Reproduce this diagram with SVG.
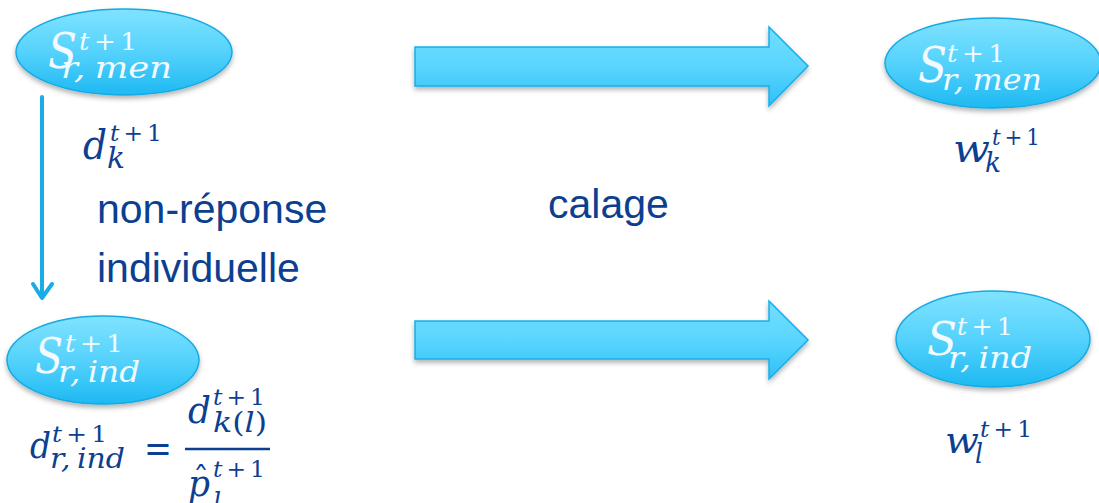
<svg xmlns="http://www.w3.org/2000/svg" width="1099" height="503" viewBox="0 0 1099 503">
<defs>
<linearGradient id="ellGrad" x1="0" y1="0" x2="0" y2="1">
<stop offset="0" stop-color="#80E3FF"/>
<stop offset="0.5" stop-color="#55D2FC"/>
<stop offset="1" stop-color="#1DB9F2"/>
</linearGradient>
<linearGradient id="arrGrad" x1="0" y1="0" x2="0" y2="1">
<stop offset="0" stop-color="#72DEFF"/>
<stop offset="0.5" stop-color="#5AD5FE"/>
<stop offset="1" stop-color="#2EC0F8"/>
</linearGradient>
<filter id="shadow" x="-10%" y="-20%" width="120%" height="150%">
<feDropShadow dx="0" dy="3" stdDeviation="2.5" flood-color="#000" flood-opacity="0.3"/>
</filter>
</defs>
<style>
.ell{fill:url(#ellGrad);stroke:#17A9E2;stroke-width:1.5;filter:url(#shadow)}
.arr{fill:url(#arrGrad);stroke:#17AEE8;stroke-width:1.5;filter:url(#shadow)}
.m{font-family:"DejaVu Serif","Liberation Serif",serif;font-style:italic}
.u{font-family:"DejaVu Serif","Liberation Serif",serif;font-style:normal}
.w{fill:#F2FAFF}
.b{fill:#0D3F91}
.lbl{font-family:"Liberation Sans",Arial,sans-serif;font-size:41px;fill:#0D3F91}
</style>

<g id="connectors">
<polygon class="arr" points="415,47 769,47 769,27 808,66 769,106 769,86 415,86"/>
<polygon class="arr" points="415,321 769,321 769,301 808,340 769,379 769,359 415,359"/>
<g stroke="#19ACE6" stroke-width="4" fill="none" stroke-linecap="round" stroke-linejoin="round">
<line x1="42" y1="97" x2="42" y2="297"/>
<polyline points="33,284 42,298 52,284"/>
</g>
</g>

<g id="node-men-left">
<ellipse class="ell" cx="124" cy="52" rx="108" ry="43"/>
<text class="m w" x="48" y="68" font-size="48" textLength="29" lengthAdjust="spacingAndGlyphs">S</text>
<text class="m w" x="79" y="50" font-size="24" textLength="58" lengthAdjust="spacingAndGlyphs">t<tspan class="u" dx="4">+</tspan><tspan class="u" dx="4">1</tspan></text>
<text class="m w" x="61" y="78" font-size="30" textLength="111" lengthAdjust="spacingAndGlyphs">r,<tspan dx="8">men</tspan></text>
</g>

<g id="node-ind-left">
<ellipse class="ell" cx="103" cy="360" rx="96" ry="44"/>
<text class="m w" x="35" y="373" font-size="48" textLength="28" lengthAdjust="spacingAndGlyphs">S</text>
<text class="m w" x="65" y="352" font-size="24" textLength="58" lengthAdjust="spacingAndGlyphs">t<tspan class="u" dx="4">+</tspan><tspan class="u" dx="4">1</tspan></text>
<text class="m w" x="58" y="382" font-size="30" textLength="82" lengthAdjust="spacingAndGlyphs">r,<tspan dx="7">ind</tspan></text>
</g>

<g id="node-men-right">
<ellipse class="ell" cx="993" cy="63" rx="108" ry="45"/>
<text class="m w" x="918" y="82" font-size="48" textLength="29" lengthAdjust="spacingAndGlyphs">S</text>
<text class="m w" x="947" y="62" font-size="24" textLength="58" lengthAdjust="spacingAndGlyphs">t<tspan class="u" dx="4">+</tspan><tspan class="u" dx="4">1</tspan></text>
<text class="m w" x="942" y="90" font-size="29" textLength="100" lengthAdjust="spacingAndGlyphs">r,<tspan dx="8">men</tspan></text>
</g>

<g id="node-ind-right">
<ellipse class="ell" cx="993" cy="339" rx="97" ry="48"/>
<text class="m w" x="927" y="355" font-size="46" textLength="30" lengthAdjust="spacingAndGlyphs">S</text>
<text class="m w" x="957" y="335" font-size="24" textLength="56" lengthAdjust="spacingAndGlyphs">t<tspan class="u" dx="4">+</tspan><tspan class="u" dx="4">1</tspan></text>
<text class="m w" x="948" y="368" font-size="30" textLength="84" lengthAdjust="spacingAndGlyphs">r,<tspan dx="7">ind</tspan></text>
</g>

<g id="label-dk">
<text class="m b" x="83" y="159" font-size="41" textLength="24" lengthAdjust="spacingAndGlyphs">d</text>
<text class="m b" x="110" y="141" font-size="23" textLength="52" lengthAdjust="spacingAndGlyphs">t<tspan class="u" dx="4">+</tspan><tspan class="u" dx="4">1</tspan></text>
<text class="m b" x="107" y="168" font-size="29" textLength="18" lengthAdjust="spacingAndGlyphs">k</text>
</g>

<g id="label-nonreponse">
<text class="lbl" x="97" y="223">non-réponse</text>
<text class="lbl" x="97" y="282">individuelle</text>
</g>

<g id="label-calage">
<text class="lbl" x="548" y="218">calage</text>
</g>

<g id="label-wk">
<text class="m b" x="953" y="162" font-size="40" textLength="37" lengthAdjust="spacingAndGlyphs">w</text>
<text class="m b" x="992" y="145" font-size="22" textLength="48" lengthAdjust="spacingAndGlyphs">t<tspan class="u" dx="4">+</tspan><tspan class="u" dx="4">1</tspan></text>
<text class="m b" x="985" y="172" font-size="28" textLength="16" lengthAdjust="spacingAndGlyphs">k</text>
</g>

<g id="label-wl">
<text class="m b" x="945" y="453" font-size="38" textLength="34" lengthAdjust="spacingAndGlyphs">w</text>
<text class="m b" x="980" y="437" font-size="22" textLength="52" lengthAdjust="spacingAndGlyphs">t<tspan class="u" dx="4">+</tspan><tspan class="u" dx="4">1</tspan></text>
<text class="m b" x="975" y="463" font-size="27" textLength="8" lengthAdjust="spacingAndGlyphs">l</text>
</g>

<g id="label-formula">
<text class="m b" x="30" y="458" font-size="35" textLength="21" lengthAdjust="spacingAndGlyphs">d</text>
<text class="m b" x="52" y="442" font-size="23" textLength="55" lengthAdjust="spacingAndGlyphs">t<tspan class="u" dx="4">+</tspan><tspan class="u" dx="4">1</tspan></text>
<text class="m b" x="50" y="468" font-size="28" textLength="75" lengthAdjust="spacingAndGlyphs">r,<tspan dx="6">ind</tspan></text>
<text class="u b" x="144" y="462" font-size="40" textLength="28" lengthAdjust="spacingAndGlyphs">=</text>
<line x1="185" y1="449" x2="270" y2="449" stroke="#0D3F91" stroke-width="2.5"/>
<text class="m b" x="188" y="423" font-size="37" textLength="23" lengthAdjust="spacingAndGlyphs">d</text>
<text class="m b" x="213" y="405" font-size="23" textLength="52" lengthAdjust="spacingAndGlyphs">t<tspan class="u" dx="4">+</tspan><tspan class="u" dx="4">1</tspan></text>
<text class="m b" x="213" y="432" font-size="27" textLength="54" lengthAdjust="spacingAndGlyphs">k<tspan class="u">(</tspan>l<tspan class="u">)</tspan></text>
<text class="m b" x="188" y="496" font-size="37" textLength="22" lengthAdjust="spacingAndGlyphs">p</text>
<text class="u b" x="201" y="490" font-size="32" text-anchor="middle">ˆ</text>
<text class="m b" x="213" y="477" font-size="23" textLength="52" lengthAdjust="spacingAndGlyphs">t<tspan class="u" dx="4">+</tspan><tspan class="u" dx="4">1</tspan></text>
<text class="m b" x="213" y="512" font-size="27" textLength="8" lengthAdjust="spacingAndGlyphs">l</text>
</g>
</svg>
